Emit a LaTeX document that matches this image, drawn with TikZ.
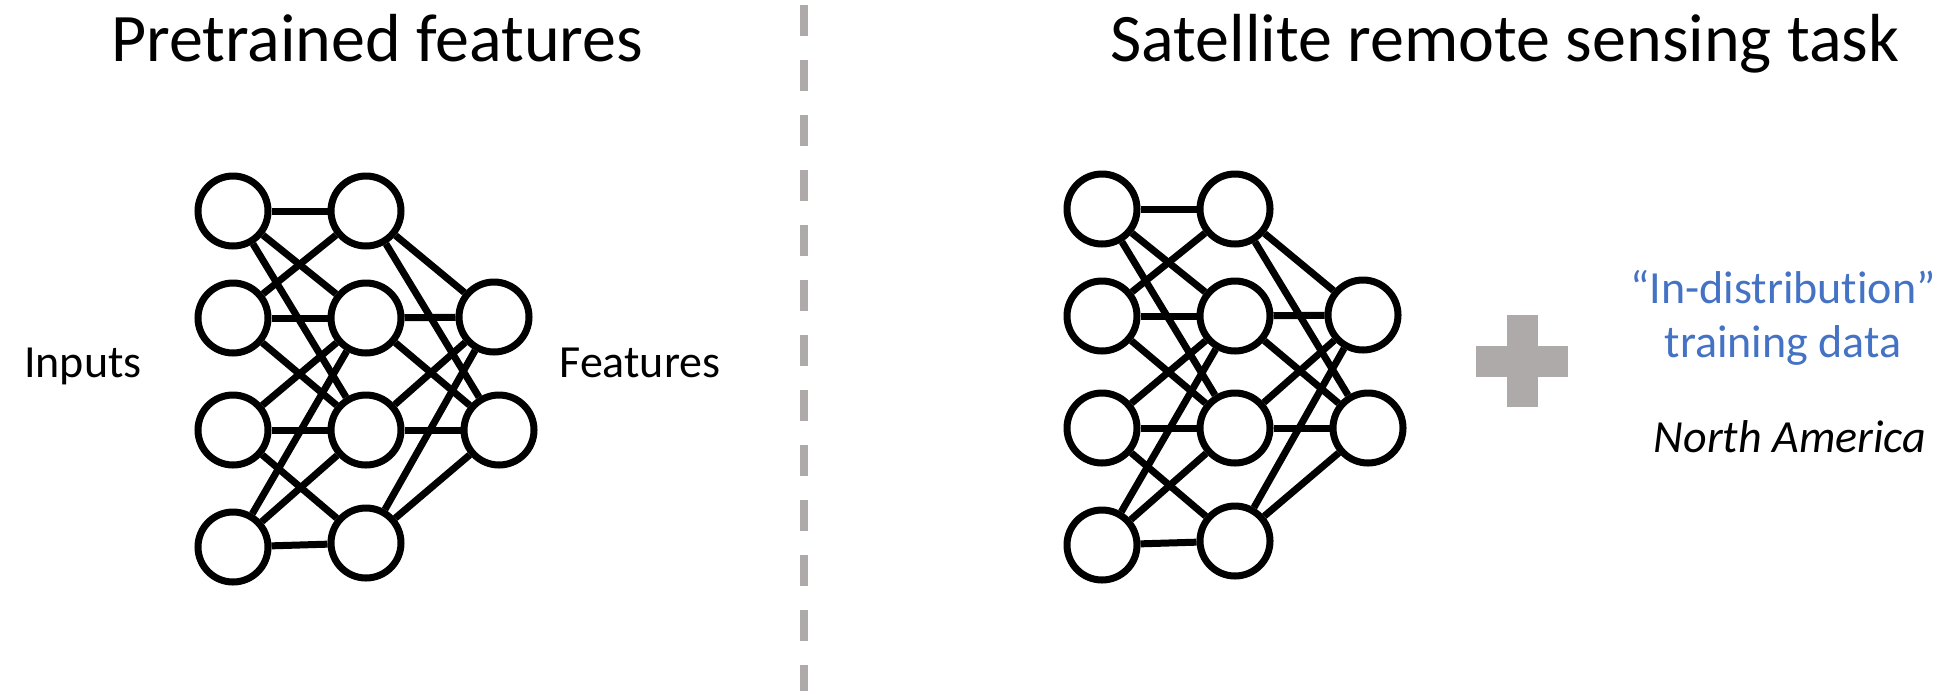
\documentclass[tikz,border=0pt]{standalone}
\usepackage{fontspec}
\setmainfont{Carlito}[Ligatures = CommonOff]
\usepackage{tikz}
\usetikzlibrary{positioning}

\definecolor{plusgray}{HTML}{AEAAAA}
\definecolor{datablue}{HTML}{4472C4}

\tikzset{
  unit/.style = {circle, draw, line width = 3.5pt, minimum size = 35pt, inner sep = 0pt},
  link/.style = {line width = 3.5pt},
  headline/.style = {anchor = base, font = \fontsize{34}{40}\selectfont},
  tag/.style = {anchor = base, font = \fontsize{23}{28}\selectfont}
}

\begin{document}
\begin{tikzpicture}[x = 0.5pt, y = -0.5pt]
      \useasboundingbox (0, 0) rectangle (1957, 691);
      % divider
      \draw [plusgray, line width = 4pt, dash pattern = on 15.5pt off 12pt] (804, 5) -- (804, 691);
      \node [headline] (pretrained) at (377, 61) {Pretrained features};
      \node [headline] (satellite) at (1505, 61) {Satellite remote sensing task};
      \node [tag] (inputs) at (83, 377) {Inputs};
      \node [tag] (features) at (640, 377) {Features};
      % the two networks
      \foreach \p/\dx/\dy in {a/233/211, b/1102/209}{
        \begin{scope}[shift = {(\dx, \dy)}]
          \foreach \i/\y in {1/0, 2/107, 3/219, 4/336}{
            \node [unit] (\p-in\i) at (0, \y) {};
          }
          \foreach \i/\y in {1/0, 2/107, 3/219, 4/332}{
            \node [unit] (\p-mid\i) at (133, \y) {};
          }
          \node [unit] (\p-out1) at (261, 106) {};
          \node [unit] (\p-out2) at (266, 219) {};
          \foreach \i/\j in {1/1, 1/2, 1/3, 2/1, 2/2, 2/3, 3/2, 3/3, 3/4, 4/2, 4/3, 4/4}{
            \draw [link] (\p-in\i) -- (\p-mid\j);
          }
          \foreach \j in {1, ..., 4}{
            \foreach \k in {1, 2}{
              \draw [link] (\p-mid\j) -- (\p-out\k);
            }
          }
        \end{scope}
      }
      % plus
      \fill [plusgray] (1476, 346) rectangle (1568, 377);
      \fill [plusgray] (1507, 315) rectangle (1538, 407);
      \node [tag, text = datablue] (indist) at (1783, 303) {“In-distribution”};
      \node [tag, text = datablue] (trainingdata) at (1783, 357) {training data};
      \node [tag, font = \fontsize{23}{28}\selectfont\itshape] (northamerica) at (1790, 452) {North America};
    \end{tikzpicture}
\end{document}
